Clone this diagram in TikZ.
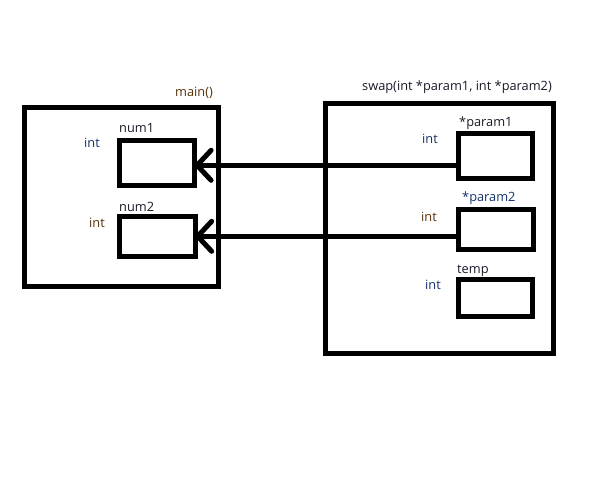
\documentclass[tikz,border=0pt]{standalone}
\usepackage{fontspec}
\setmainfont{Open Sans}
\usetikzlibrary{arrows.meta}
\definecolor{tblue}{RGB}{20,50,105}
\definecolor{tbrown}{RGB}{85,50,10}
\definecolor{tdark}{RGB}{25,25,40}
\tikzset{
  frame/.style={draw=black, line width=5pt, inner sep=0pt, outer sep=0pt},
  lbl/.style={anchor=west, inner sep=0pt, font=\fontsize{12.8}{15}\selectfont},
  link/.style={line width=5pt, -{Straight Barb[length=14pt,width=30pt,line cap=round,line join=round]}},
}
\begin{document}
\begin{tikzpicture}[x=1pt,y=-1pt]
\useasboundingbox (0,0) rectangle (614,491);
% main frame
\node[frame, minimum width=194pt, minimum height=179pt] (main) at (121.6,197) {};
\node[frame, minimum width=75pt, minimum height=45pt] (num1) at (157.1,163.2) {};
\node[frame, minimum width=75.5pt, minimum height=39.5pt] (num2) at (157.4,236.3) {};
% swap frame
\node[frame, minimum width=228pt, minimum height=250pt] (swap) at (439.3,228.2) {};
\node[frame, minimum width=74pt, minimum height=45pt] (p1) at (495.8,156.3) {};
\node[frame, minimum width=75pt, minimum height=40pt] (p2) at (496.2,229.8) {};
\node[frame, minimum width=74pt, minimum height=36.6pt] (tmp) at (495.8,298) {};
% labels
\node[lbl, text=tbrown] (lmain) at (175,93) {main()};
\node[lbl, text=tdark] (lswap) at (362,87) {swap(int *param1, int *param2)};
\node[lbl, text=tdark] (ln1) at (119,128) {num1};
\node[lbl, text=tblue] (li1) at (84,143) {int};
\node[lbl, text=tdark] (ln2) at (119,207) {num2};
\node[lbl, text=tbrown] (li2) at (89,223) {int};
\node[lbl, text=tdark] (lp1) at (459,123) {*param1};
\node[lbl, text=tblue] (lip1) at (422,139) {int};
\node[lbl, text=tblue] (lp2) at (462,198) {*param2};
\node[lbl, text=tbrown] (lip2) at (421,217) {int};
\node[lbl, text=tdark] (lt) at (457,271) {temp};
\node[lbl, text=tblue] (lit) at (425,285) {int};
% connectors
\coordinate (c1) at ([yshift=-9pt]p1.west);
\draw[link] (c1) -- (num1.east |- c1);
\draw[link] (p2.west |- num2.east) -- (num2.east);
\end{tikzpicture}
\end{document}
